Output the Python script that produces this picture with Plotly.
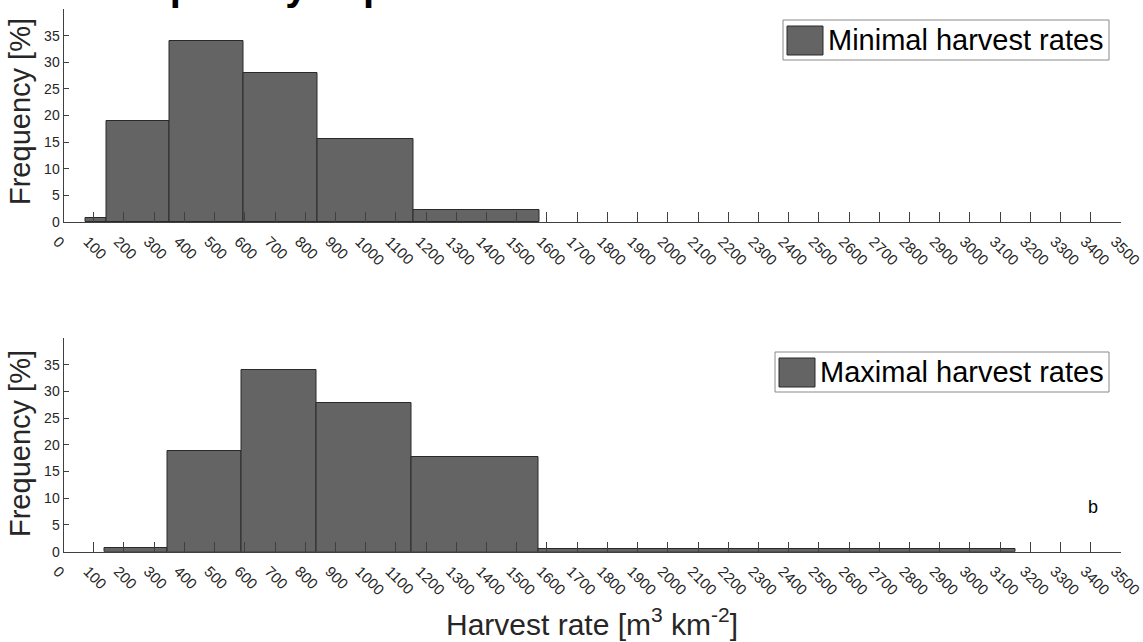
import numpy as np
import plotly.graph_objects as go
from plotly.subplots import make_subplots

# Histogram bin edges [m3 km-2] and relative frequencies [%]
min_edges = [73, 141, 352, 597, 842, 1160, 1577]
min_freq = [0.8, 18.9, 34.0, 27.9, 15.5, 2.3]

max_edges = [135, 345, 590, 836, 1151, 1573, 3151]
max_freq = [0.7, 18.8, 34.0, 27.8, 17.8, 0.5]

x_ticks = list(range(0, 3501, 100))
y_ticks = list(range(0, 36, 5))

W, H = 1143, 642
FONT = "Liberation Sans, Arial, sans-serif"
TXT = "#262626"
BAR_FILL = "#646464"
BAR_EDGE = "#2a2a2a"


def px(x):
    return x / W


def py(y):
    return 1 - y / H


def bar_trace(edges, freq, name):
    e = np.asarray(edges, dtype=float)
    return go.Bar(
        x=(e[:-1] + e[1:]) / 2,
        y=freq,
        width=np.diff(e),
        name=name,
        marker=dict(color=BAR_FILL, line=dict(color=BAR_EDGE, width=1)),
        showlegend=False,
    )


fig = make_subplots(rows=2, cols=1)
fig.add_trace(bar_trace(min_edges, min_freq, "Minimal harvest rates"), row=1, col=1)
fig.add_trace(bar_trace(max_edges, max_freq, "Maximal harvest rates"), row=2, col=1)

xdom = [px(63.5), px(1121)]
xaxis_style = dict(
    range=[0, 3500], tickvals=x_ticks, ticktext=[str(v) for v in x_ticks],
    tickangle=45, ticks="inside", ticklen=10, tickcolor="#404040", tickwidth=1,
    showline=True, linecolor="#404040", linewidth=1, showgrid=False, zeroline=False,
    tickfont=dict(family=FONT, size=15, color=TXT), ticklabelshift=-6,
    ticklabelstandoff=4, ticklabeloverflow="allow", domain=xdom, automargin=False,
)
yaxis_style = dict(
    range=[0, 40], tickvals=y_ticks, ticks="inside", ticklen=5, tickcolor="#404040",
    showline=True, linecolor="#404040", linewidth=1, showgrid=False, zeroline=False,
    tickfont=dict(family=FONT, size=14, color=TXT), automargin=False,
)
fig.update_layout(
    xaxis=xaxis_style, xaxis2=xaxis_style,
    yaxis=dict(yaxis_style, domain=[py(222), py(9)]),
    yaxis2=dict(yaxis_style, domain=[py(551.7), py(338)]),
)

annotations = [
    # figure title, sitting mostly above the top edge of the page
    dict(text="<b>Spatially explicit harvest rates distribution</b>", x=px(545), y=py(10.5),
         xref="paper", yref="paper", xanchor="center", yanchor="bottom", showarrow=False,
         font=dict(family=FONT, size=40, color="#000000")),
    dict(text="Frequency [%]", x=px(20), y=py(112), xref="paper", yref="paper",
         xanchor="center", yanchor="middle", textangle=-90, showarrow=False,
         font=dict(family=FONT, size=29, color=TXT)),
    dict(text="Frequency [%]", x=px(20), y=py(444), xref="paper", yref="paper",
         xanchor="center", yanchor="middle", textangle=-90, showarrow=False,
         font=dict(family=FONT, size=29, color=TXT)),
    dict(text="Harvest rate [m<sup>3</sup> km<sup>-2</sup>]", x=px(592), y=py(622),
         xref="paper", yref="paper", xanchor="center", yanchor="middle", showarrow=False,
         font=dict(family=FONT, size=30, color=TXT)),
    dict(text="b", x=px(1093), y=py(507), xref="paper", yref="paper",
         xanchor="center", yanchor="middle", showarrow=False,
         font=dict(family=FONT, size=18, color="#000000")),
]

shapes = []
# legend boxes: (box x0, x1, y0, y1, label)
legends = [
    (783, 1109, 20, 60, "Minimal harvest rates"),
    (775, 1109, 352, 392, "Maximal harvest rates"),
]
for x0, x1, y0, y1, label in legends:
    shapes.append(dict(type="rect", xref="paper", yref="paper",
                       x0=px(x0), x1=px(x1), y0=py(y1), y1=py(y0),
                       line=dict(color="#8a8a8a", width=1), fillcolor="white"))
    shapes.append(dict(type="rect", xref="paper", yref="paper",
                       x0=px(x0 + 4), x1=px(x0 + 40), y0=py(y1 - 5), y1=py(y0 + 6),
                       line=dict(color=BAR_EDGE, width=1), fillcolor=BAR_FILL))
    annotations.append(dict(text=label, x=px(x0 + 43), y=py((y0 + y1) / 2),
                            xref="paper", yref="paper", xanchor="left", yanchor="middle",
                            showarrow=False, font=dict(family=FONT, size=29, color="#000000")))

fig.update_layout(
    width=W, height=H, margin=dict(l=0, r=0, t=0, b=0, autoexpand=False),
    paper_bgcolor="white", plot_bgcolor="white",
    barmode="overlay", bargap=0,
    annotations=annotations, shapes=shapes, showlegend=False,
)

fig.write_html("out.html")
